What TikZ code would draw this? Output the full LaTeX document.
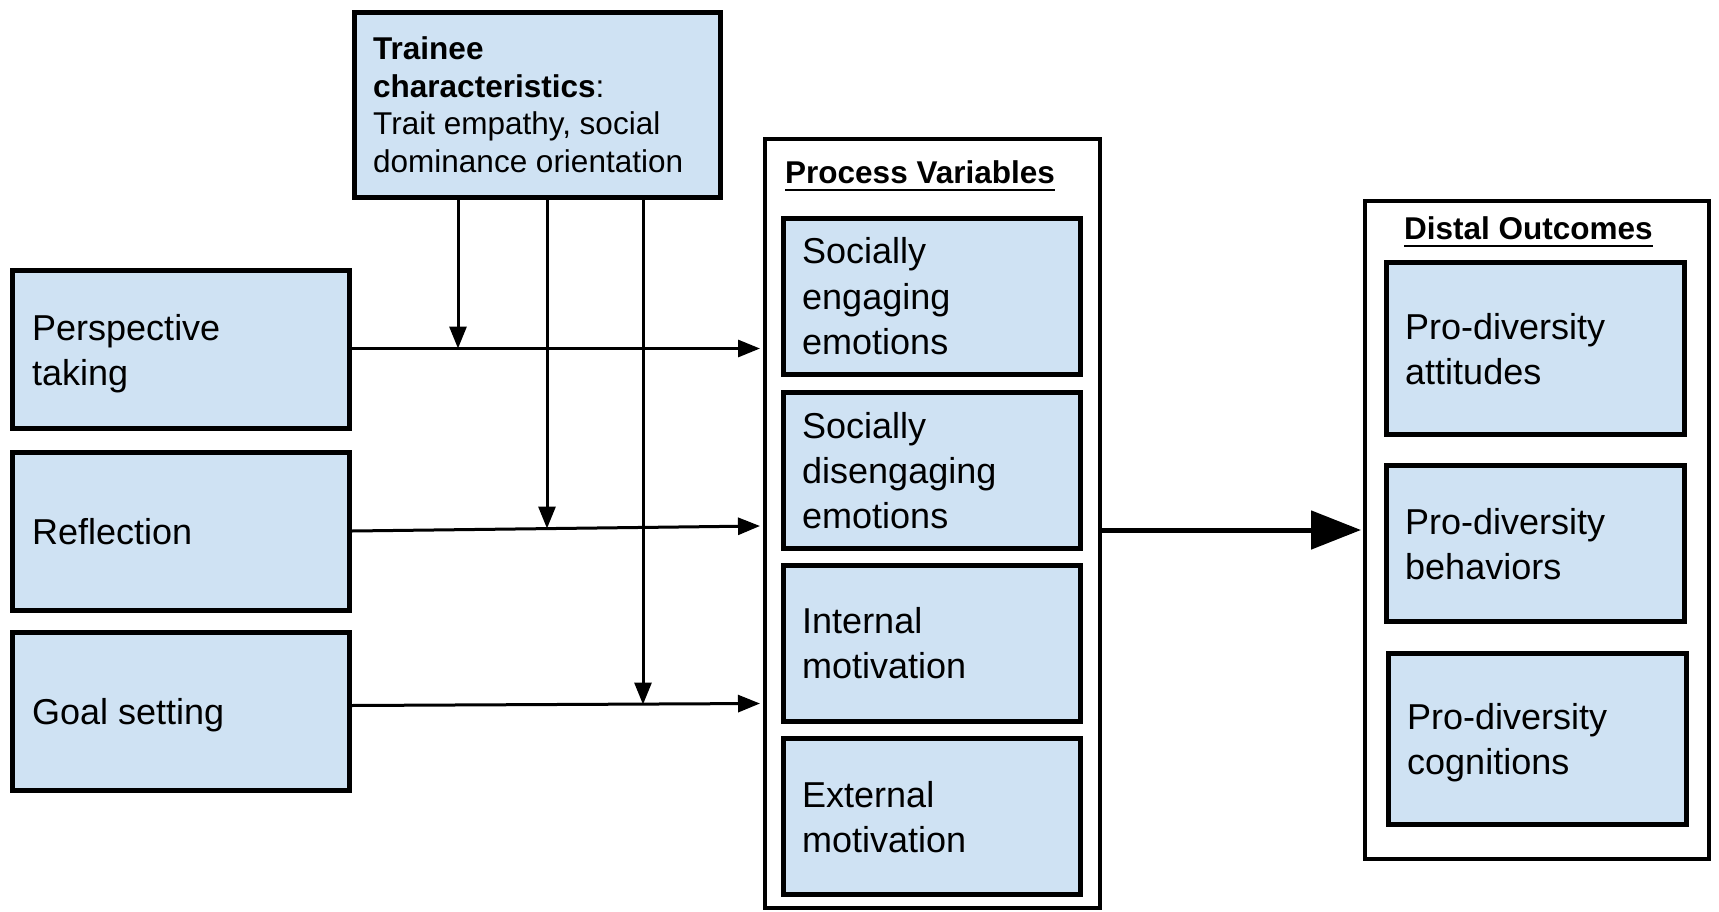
\documentclass[tikz,border=0pt]{standalone}
\usepackage{fontspec}
\setmainfont{Liberation Sans}
\usetikzlibrary{arrows.meta,calc}
\definecolor{lb}{HTML}{CFE2F3}
\begin{document}
\begin{tikzpicture}[x=1pt,y=-1pt,
  bluebox/.style={draw=black, fill=lb, line width=5pt, inner sep=0pt, rectangle},
  frame/.style={draw=black, fill=white, line width=4pt, inner sep=0pt, rectangle},
  lbl/.style={anchor=base west, inner sep=0pt, font=\fontsize{36}{45}\selectfont, text=black},
  small/.style={anchor=base west, inner sep=0pt, font=\fontsize{31.5}{37.5}\selectfont, text=black},
  ttl/.style={anchor=base west, inner sep=0pt, font=\fontsize{31.5}{37.5}\selectfont\bfseries, text=black},
  uline/.style={line width=2pt},
  conn/.style={line width=3pt, -{Triangle[length=22pt,width=17pt]}},
  bigconn/.style={line width=5pt, -{Triangle[length=50pt,width=38pt]}},
]
\useasboundingbox (0,0) rectangle (1719,912);

% boxes
\node[bluebox, minimum width=366pt, minimum height=185pt] (tc) at (537.5,105) {};
\node[bluebox, minimum width=337pt, minimum height=158pt] (pt) at (181,349.5) {};
\node[bluebox, minimum width=337pt, minimum height=158pt] (rf) at (181,531) {};
\node[bluebox, minimum width=337pt, minimum height=158pt] (gs) at (181,711.5) {};

\node[frame, minimum width=335pt, minimum height=769pt] (proc) at (932.5,523.5) {};
\node[bluebox, minimum width=297pt, minimum height=156pt] (p1) at (932,296.5) {};
\node[bluebox, minimum width=297pt, minimum height=156pt] (p2) at (932,470) {};
\node[bluebox, minimum width=297pt, minimum height=156pt] (p3) at (932,643) {};
\node[bluebox, minimum width=297pt, minimum height=156pt] (p4) at (932,816.5) {};

\node[frame, minimum width=344pt, minimum height=658pt] (dist) at (1537,530) {};
\node[bluebox, minimum width=298pt, minimum height=172pt] (d1) at (1535.5,348.5) {};
\node[bluebox, minimum width=298pt, minimum height=156pt] (d2) at (1535.5,543.5) {};
\node[bluebox, minimum width=298pt, minimum height=171pt] (d3) at (1537.5,739) {};

% texts
\node[small] (tct) at (373,60) {\vtop{\hbox{\bfseries Trainee}\hbox{\bfseries characteristics\mdseries:}\hbox{Trait empathy, social}\hbox{dominance orientation}}};
\node[lbl] (ptt) at (32,340) {\vtop{\hbox{Perspective}\hbox{taking}}};
\node[lbl] (rft) at (32,544) {Reflection};
\node[lbl] (gst) at (32,724) {Goal setting};

\node[ttl] (pvt) at (785,184) {Process Variables};
\draw[uline] ([yshift=-6pt]pvt.base west) -- ([yshift=-6pt]pvt.base east);
\node[lbl] (p1t) at (802,264) {\vtop{\hbox{Socially}\hbox{engaging}\hbox{emotions}}};
\node[lbl] (p2t) at (802,438) {\vtop{\hbox{Socially}\hbox{disengaging}\hbox{emotions}}};
\node[lbl] (p3t) at (802,633) {\vtop{\hbox{Internal}\hbox{motivation}}};
\node[lbl] (p4t) at (802,807) {\vtop{\hbox{External}\hbox{motivation}}};

\node[ttl] (dot) at (1404,240) {Distal Outcomes};
\draw[uline] ([yshift=-6pt]dot.base west) -- ([yshift=-6pt]dot.base east);
\node[lbl] (d1t) at (1405,339) {\vtop{\hbox{Pro-diversity}\hbox{attitudes}}};
\node[lbl] (d2t) at (1405,534) {\vtop{\hbox{Pro-diversity}\hbox{behaviors}}};
\node[lbl] (d3t) at (1407,729) {\vtop{\hbox{Pro-diversity}\hbox{cognitions}}};

% connectors
\coordinate (v1) at ([xshift=-79.5pt]tc.south);
\coordinate (v2) at ([xshift=9.5pt]tc.south);
\coordinate (v3) at ([xshift=105.5pt]tc.south);
\draw[conn] ($(pt.east)+(0,-1)$) -- ($(pt.east -| proc.west)+(-3,-1)$);
\draw[conn] (rf.east) -- ($(rf.east -| proc.west)+(-3,-5)$);
\draw[conn] ($(gs.east)+(0,-6)$) -- ($(gs.east -| proc.west)+(-3,-8)$);
\draw[conn] (v1) -- ($(v1 |- pt.east)+(0,-1)$);
\draw[conn] (v2) -- ($(v2 |- rf.east)+(0,-2.5)$);
\draw[conn] (v3) -- ($(v3 |- gs.east)+(0,-7)$);
\draw[bigconn] (proc.east |- dist.west) -- ($(dist.west)+(-2,0)$);
\end{tikzpicture}
\end{document}
